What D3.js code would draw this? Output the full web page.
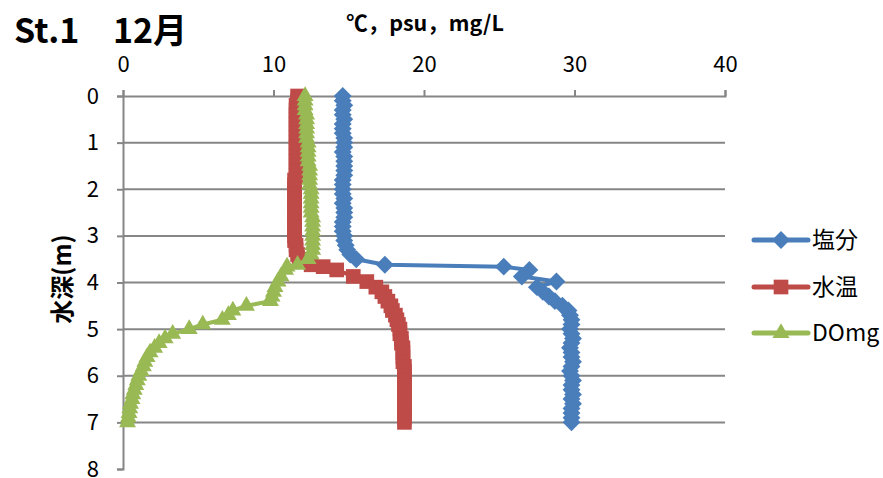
<!DOCTYPE html>
<html>
<head>
<meta charset="utf-8">
<script src="https://cdn.jsdelivr.net/npm/d3@7"></script>
<style>
  body { margin: 0; background: #fff; }
  text { font-family: "Noto Sans CJK JP", "Open Sans", sans-serif; fill: #000; }
</style>
</head>
<body>
<div class="chart"></div>
<script>
// chart data
var depths = [0.0, 0.1, 0.2, 0.3, 0.4, 0.5, 0.6, 0.7, 0.8, 0.9,
  1.0, 1.1, 1.2, 1.3, 1.4, 1.5, 1.6, 1.7, 1.8, 1.9,
  2.0, 2.1, 2.2, 2.3, 2.4, 2.5, 2.6, 2.7, 2.8, 2.9,
  3.0, 3.1, 3.2, 3.3, 3.4, 3.5, 3.62, 3.66, 3.73, 3.87, 3.98,
  4.1, 4.2, 4.3, 4.4, 4.5, 4.6, 4.7, 4.8, 4.9,
  5.0, 5.1, 5.2, 5.3, 5.4, 5.5, 5.6, 5.7, 5.8, 5.9,
  6.0, 6.1, 6.2, 6.3, 6.4, 6.5, 6.6, 6.7, 6.8, 6.9, 7.0];

var salinity = [14.6, 14.6, 14.7, 14.6, 14.6, 14.7, 14.6, 14.6, 14.6, 14.7,
  14.7, 14.7, 14.6, 14.7, 14.7, 14.7, 14.7, 14.7, 14.6, 14.6,
  14.6, 14.6, 14.7, 14.6, 14.7, 14.7, 14.7, 14.6, 14.6, 14.6,
  14.7, 14.7, 14.8, 14.9, 15.1, 15.5, 17.4, 25.3, 27.0, 26.5, 28.8,
  27.5, 27.9, 28.3, 28.7, 29.2, 29.6, 29.7, 29.8, 29.8,
  29.7, 29.8, 29.9, 29.8, 29.7, 29.8, 29.8, 29.9, 29.8, 29.7,
  29.8, 29.9, 29.8, 29.8, 29.9, 29.8, 29.9, 29.8, 29.8, 29.8, 29.8];

var watertemp = [11.6, 11.6, 11.5, 11.5, 11.5, 11.5, 11.5, 11.5, 11.5, 11.5,
  11.5, 11.5, 11.5, 11.5, 11.5, 11.5, 11.5, 11.5, 11.4, 11.4,
  11.4, 11.4, 11.4, 11.4, 11.4, 11.4, 11.4, 11.4, 11.4, 11.4,
  11.4, 11.4, 11.5, 11.5, 11.6, 11.7, 12.5, 13.3, 14.2, 15.3, 16.2,
  16.8, 17.2, 17.4, 17.6, 17.8, 17.9, 18.1, 18.2, 18.3,
  18.4, 18.4, 18.5, 18.5, 18.6, 18.6, 18.6, 18.6, 18.7, 18.7,
  18.7, 18.7, 18.7, 18.7, 18.7, 18.7, 18.7, 18.7, 18.7, 18.7, 18.7];

var domg = [12.1, 12.1, 12.1, 12.1, 12.2, 12.2, 12.2, 12.2, 12.2, 12.2,
  12.3, 12.3, 12.3, 12.3, 12.3, 12.4, 12.4, 12.4, 12.4, 12.4,
  12.5, 12.5, 12.5, 12.5, 12.5, 12.5, 12.6, 12.6, 12.6, 12.6,
  12.6, 12.6, 12.6, 12.6, 12.5, 12.3, 11.6, 10.9, 10.8, 10.5, 10.3,
  10.1, 10.0, 9.9, 9.8, 8.2, 7.3, 7.0, 6.6, 5.3,
  4.4, 3.3, 2.8, 2.4, 2.1, 1.8, 1.6, 1.45, 1.35, 1.2,
  1.05, 0.95, 0.85, 0.75, 0.65, 0.6, 0.5, 0.45, 0.4, 0.35, 0.3];

var seriesNames = ["塩分", "水温", "DOmg"];
var xTicks = [0, 10, 20, 30, 40];
var yTicks = [0, 1, 2, 3, 4, 5, 6, 7, 8];

var svgWidth = 883;
var svgHeight = 478;

var svg = d3.select(".chart")
  .append("svg")
  .attr("width", svgWidth)
  .attr("height", svgHeight);

var xScale = d3.scaleLinear().domain([0, 40]).range([123, 725]);
var yScale = d3.scaleLinear().domain([0, 8]).range([96, 469]);

var gridColor = "#868686";

// horizontal gridlines
svg.append("g")
  .selectAll("line")
  .data(yTicks.filter(d => d > 0 && d < 8))
  .enter()
  .append("line")
  .attr("x1", xScale(0))
  .attr("x2", xScale(40))
  .attr("y1", d => yScale(d))
  .attr("y2", d => yScale(d))
  .attr("stroke", gridColor)
  .attr("stroke-width", 2);

// top axis
var topAxis = d3.axisTop(xScale).tickValues(xTicks).tickSize(6).tickPadding(18);
var xAxis = svg.append("g")
  .attr("transform", `translate(0, ${yScale(0)})`)
  .call(topAxis);

// left axis
var leftAxis = d3.axisLeft(yScale).tickValues(yTicks).tickSize(6).tickPadding(18);
var yAxis = svg.append("g")
  .attr("transform", `translate(${xScale(0)}, 0)`)
  .call(leftAxis);

[xAxis, yAxis].forEach(function(ax) {
  ax.select(".domain").attr("stroke", gridColor).attr("stroke-width", 2);
  ax.selectAll(".tick line").attr("stroke", gridColor).attr("stroke-width", 2);
  ax.selectAll("text")
    .attr("font-size", "22px")
    .attr("font-family", "\"Noto Sans CJK JP\", sans-serif")
    .attr("fill", "#000");
});

// series
var series = [
  { name: seriesNames[0], values: salinity, color: "#4a7ebb", symbol: "diamond" },
  { name: seriesNames[1], values: watertemp, color: "#be4b48", symbol: "square" },
  { name: seriesNames[2], values: domg, color: "#98b954", symbol: "triangle" }
];

function markerPath(type) {
  if (type === "diamond") return d3.symbol(d3.symbolSquare, 160)();
  if (type === "square") return d3.symbol(d3.symbolSquare, 215)();
  return d3.symbol(d3.symbolTriangle, 125)();
}
function markerRotate(type) {
  return type === "diamond" ? " rotate(45)" : "";
}

var line = d3.line()
  .x(d => xScale(d.v))
  .y(d => yScale(d.depth));

series.forEach(function(s) {
  var pts = depths.map((dp, i) => ({ depth: dp, v: s.values[i] }));
  var g = svg.append("g");
  g.append("path")
    .datum(pts)
    .attr("d", line)
    .attr("fill", "none")
    .attr("stroke", s.color)
    .attr("stroke-width", 4)
    .attr("stroke-linejoin", "round");
  g.selectAll("path.mk")
    .data(pts)
    .enter()
    .append("path")
    .attr("class", "mk")
    .attr("d", markerPath(s.symbol))
    .attr("transform", d => `translate(${xScale(d.v)}, ${yScale(d.depth)})` + markerRotate(s.symbol))
    .attr("fill", s.color);
});

// legend
var legendY = [240, 287, 333];
var legend = svg.append("g");
series.forEach(function(s, i) {
  var lg = legend.append("g").attr("transform", `translate(752, ${legendY[i]})`);
  lg.append("line")
    .attr("x1", 2).attr("x2", 56)
    .attr("y1", 0).attr("y2", 0)
    .attr("stroke", s.color)
    .attr("stroke-width", 5)
    .attr("stroke-linecap", "round");
  lg.append("path")
    .attr("d", markerPath(s.symbol))
    .attr("transform", "translate(29, 0)" + markerRotate(s.symbol))
    .attr("fill", s.color);
  lg.append("text")
    .attr("x", 60)
    .attr("y", 0)
    .attr("dy", "0.36em")
    .attr("font-size", "23px")
    .text(s.name);
});

// title
svg.append("text")
  .attr("x", 14)
  .attr("y", 43)
  .attr("font-size", "34px")
  .attr("font-weight", "bold")
  .text("St.1");
svg.append("text")
  .attr("x", 113)
  .attr("y", 43)
  .attr("font-size", "34px")
  .attr("font-weight", "bold")
  .text("12月");

// x axis title
svg.append("text")
  .attr("x", 425)
  .attr("y", 31)
  .attr("text-anchor", "middle")
  .attr("font-size", "21.5px")
  .attr("font-weight", "bold")
  .text("℃，psu，mg/L");

// y axis title
svg.append("text")
  .attr("transform", `translate(62, 279) rotate(-90)`)
  .attr("text-anchor", "middle")
  .attr("dy", "0.36em")
  .attr("font-size", "24px")
  .attr("font-weight", "bold")
  .text("水深(m)");
</script>
</body>
</html>
